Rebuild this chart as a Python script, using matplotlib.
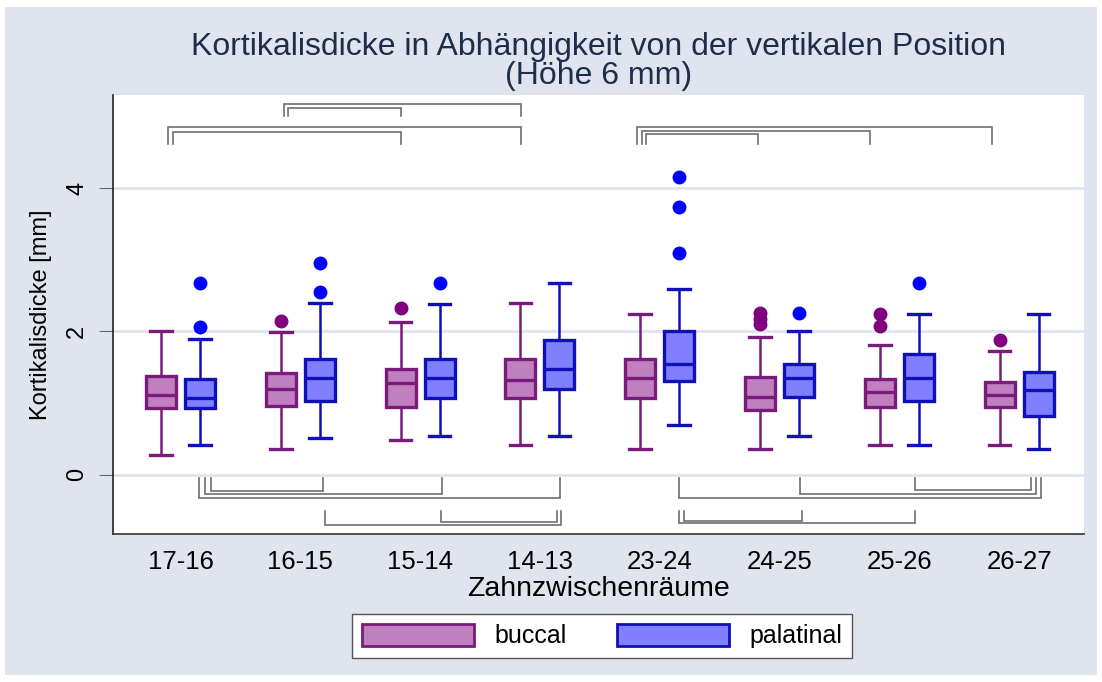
import matplotlib
matplotlib.use("Agg")
import matplotlib.pyplot as plt
from matplotlib.patches import Patch, Rectangle
import numpy as np

plt.rcParams['font.family'] = ['Liberation Sans', 'DejaVu Sans']

groups = ["17-16", "16-15", "15-14", "14-13", "23-24", "24-25", "25-26", "26-27"]

# buccal
buccal_lo = [0.28, 0.36, 0.49, 0.41, 0.36, 0.36, 0.41, 0.42]
buccal_q1 = [0.93, 0.96, 0.95, 1.07, 1.07, 0.91, 0.95, 0.95]
buccal_med = [1.11, 1.20, 1.28, 1.32, 1.35, 1.09, 1.16, 1.11]
buccal_q3 = [1.38, 1.42, 1.47, 1.61, 1.61, 1.36, 1.34, 1.30]
buccal_hi = [2.00, 1.99, 2.13, 2.40, 2.25, 1.93, 1.81, 1.73]
buccal_out = [[], [2.14], [2.33], [], [], [2.26, 2.18, 2.10], [2.25, 2.08], [1.88]]

# palatinal
palatinal_lo = [0.42, 0.52, 0.54, 0.54, 0.69, 0.54, 0.41, 0.36]
palatinal_q1 = [0.93, 1.03, 1.07, 1.20, 1.31, 1.08, 1.03, 0.82]
palatinal_med = [1.07, 1.35, 1.35, 1.47, 1.55, 1.35, 1.35, 1.19]
palatinal_q3 = [1.34, 1.61, 1.61, 1.88, 2.00, 1.55, 1.68, 1.44]
palatinal_hi = [1.90, 2.40, 2.38, 2.67, 2.59, 2.00, 2.25, 2.24]
palatinal_out = [[2.67, 2.06], [2.95, 2.55], [2.67], [], [4.15, 3.74, 3.10], [2.26], [2.67], []]

# significance brackets: (series, group from, group to)
top_pairs = [("b", 0, 3), ("b", 0, 2), ("b", 1, 3), ("b", 1, 2),
             ("b", 4, 7), ("b", 4, 6), ("b", 4, 5)]
bottom_pairs = [("p", 0, 3), ("p", 0, 2), ("p", 0, 1), ("p", 1, 3), ("p", 2, 3),
                ("p", 4, 7), ("p", 5, 7), ("p", 6, 7), ("p", 4, 6), ("p", 4, 5)]

# bracket layout (bar height, foot height, end nudges in px)
top_layout = [(4.86, 4.61, 7, 1), (4.79, 4.61, 12, 0), (5.17, 5.00, 3, 1), (5.12, 5.00, 7, 0),
              (4.86, 4.61, -3, -8), (4.80, 4.61, 2, -10), (4.75, 4.61, 6, -2)]
bottom_layout = [(-0.325, -0.05, -1, 1), (-0.27, -0.05, 5, 2), (-0.22, -0.05, 11, 3),
                 (-0.70, -0.51, 5, 2), (-0.66, -0.51, 1, -2),
                 (-0.325, -0.05, 0, 2), (-0.265, -0.05, 1, -3), (-0.21, -0.05, -4, -8),
                 (-0.675, -0.51, 0, -4), (-0.64, -0.51, 5, 3)]

b_face, b_edge, b_dot = "#c080c0", "#7a1a7a", "#800080"
p_face, p_edge, p_dot = "#8080ff", "#1010b8", "#0000ff"
bg = "#dfe4ee"

fig = plt.figure(figsize=(11.02, 6.82), dpi=100)
fig.patch.set_facecolor("white")
fig.patches.append(Rectangle((5 / 1102, 7 / 682), 1092 / 1102, 668 / 682,
                             transform=fig.transFigure, facecolor=bg, edgecolor="none", zorder=-10))
ax = fig.add_axes([113.3 / 1102, 1 - 534.3 / 682, (1084 - 113.3) / 1102, (534.3 - 95) / 682])
ax.set_facecolor("white")

x = np.arange(len(groups))
off = 0.163
px = 1 / 119.8


def stats(lo, q1, med, q3, hi, out):
    return [dict(whislo=lo[i], q1=q1[i], med=med[i], q3=q3[i], whishi=hi[i], fliers=out[i])
            for i in range(len(lo))]


for st, pos, face, edge, dot in [
        (stats(buccal_lo, buccal_q1, buccal_med, buccal_q3, buccal_hi, buccal_out), x - off, b_face, b_edge, b_dot),
        (stats(palatinal_lo, palatinal_q1, palatinal_med, palatinal_q3, palatinal_hi, palatinal_out), x + off, p_face, p_edge, p_dot)]:
    ax.bxp(st, positions=pos, widths=0.25, patch_artist=True, showfliers=True,
           boxprops=dict(facecolor=face, edgecolor=edge, linewidth=2.4),
           medianprops=dict(color=edge, linewidth=2.4),
           whiskerprops=dict(color=edge, linewidth=1.8),
           capprops=dict(color=edge, linewidth=2.4),
           capwidths=0.18,
           flierprops=dict(marker="o", markerfacecolor=dot, markeredgecolor=dot, markersize=9),
           zorder=3)

for pairs, layout in [(top_pairs, top_layout), (bottom_pairs, bottom_layout)]:
    for (s, g0, g1), (ybar, yfoot, n0, n1) in zip(pairs, layout):
        d = -off if s == "b" else off
        x0 = x[g0] + d + n0 * px
        x1 = x[g1] + d + n1 * px
        ax.plot([x0, x0, x1, x1], [yfoot, ybar, ybar, yfoot], color="#6e6e6e", lw=1.2,
                solid_joinstyle="miter", zorder=2)

ax.set_xlim(-0.561, 7.542)
ax.set_ylim(-0.83, 5.30)
ax.set_yticks([0, 2, 4])
ax.set_yticklabels(["0", "2", "4"], rotation=90, va="center", fontsize=17)
ax.yaxis.grid(True, color="#e0e4ec", lw=2)
ax.set_axisbelow(True)
ax.set_xticks(x)
ax.set_xticklabels(groups, fontsize=18.5)
ax.tick_params(axis="x", length=0, pad=11)
ax.tick_params(axis="y", length=10, color="#666666", pad=8)
for side in ["top", "right"]:
    ax.spines[side].set_visible(False)
ax.spines["left"].set_color("#222222")
ax.spines["bottom"].set_color("#333333")
ax.spines["left"].set_linewidth(1.2)
ax.spines["bottom"].set_linewidth(1.2)

ax.set_ylabel("Kortikalisdicke [mm]", fontsize=17, labelpad=10)
ax.set_xlabel("Zahnzwischenräume", fontsize=20.5, labelpad=2)
ax.set_title("Kortikalisdicke in Abhängigkeit von der vertikalen Position\n(Höhe 6 mm)",
             fontsize=23, color="#1e2d4a", linespacing=0.95, pad=8)

handles = [Patch(facecolor=b_face, edgecolor=b_edge, linewidth=2, label="buccal"),
           Patch(facecolor=p_face, edgecolor=p_edge, linewidth=2, label="palatinal")]
leg = fig.legend(handles=handles, loc="center", bbox_to_anchor=(602 / 1102, 1 - 636 / 682),
                 ncol=2, fontsize=18, frameon=True, fancybox=False, handlelength=4.5,
                 handleheight=1.0, columnspacing=2.0, handletextpad=0.8, borderpad=0.4,
                 framealpha=1.0)
leg.get_frame().set_facecolor("white")
leg.get_frame().set_edgecolor("#555555")
leg.get_frame().set_linewidth(1.0)

fig.savefig("out.png", dpi=100, facecolor=fig.get_facecolor())
